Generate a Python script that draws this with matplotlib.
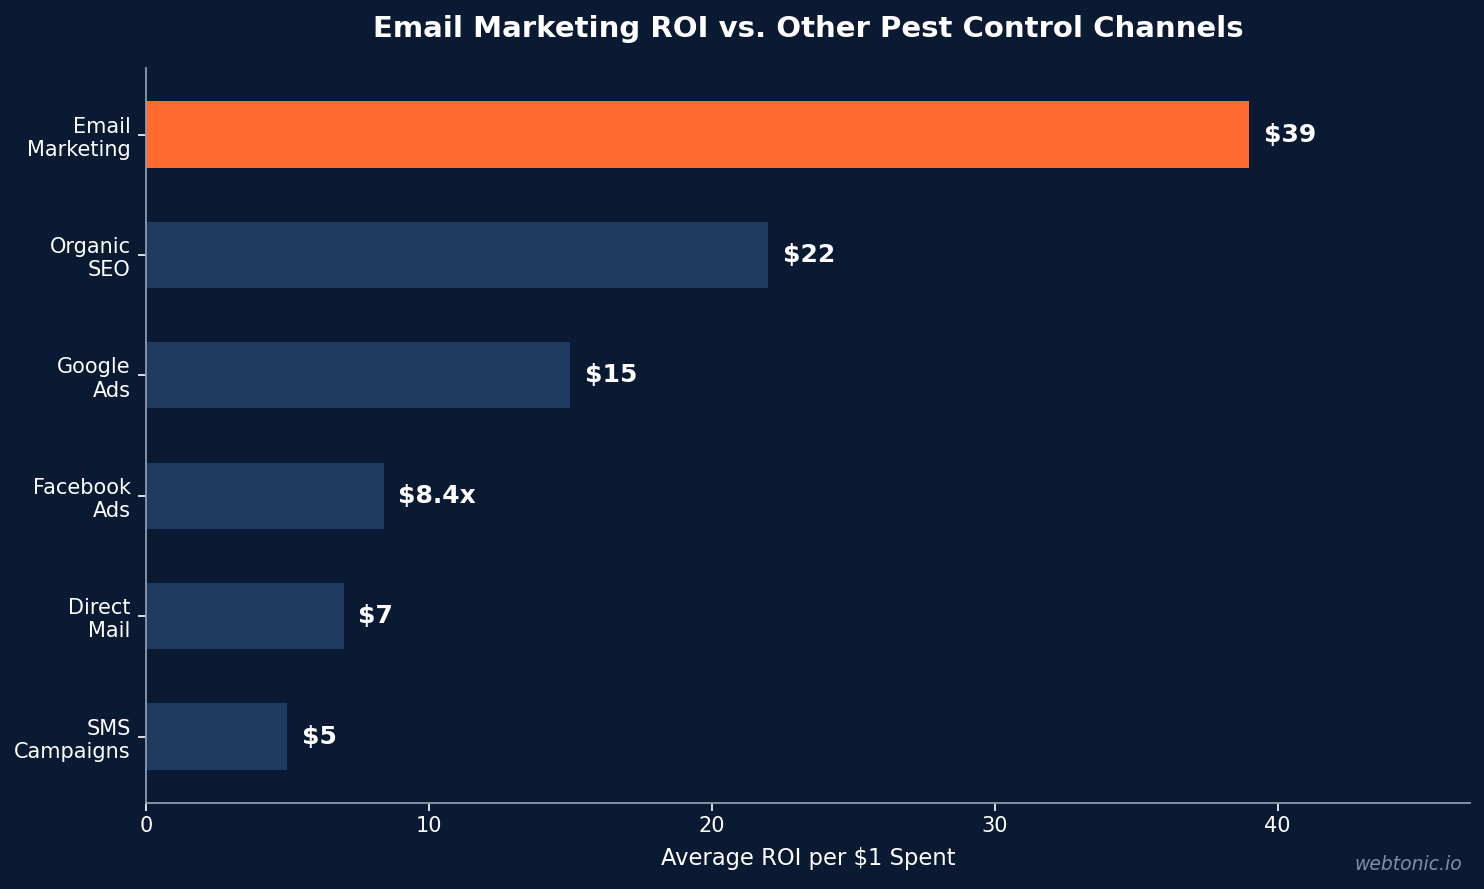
import matplotlib.pyplot as plt

channels = ['Email\nMarketing', 'Organic\nSEO', 'Google\nAds', 'Facebook\nAds', 'Direct\nMail', 'SMS\nCampaigns']
roi = [39, 22, 15, 8.4, 7, 5]
labels = ['$39', '$22', '$15', '$8.4x', '$7', '$5']

bg = '#0b1a33'
bar_col = '#1f3a5f'
hi_col = '#ff6b2f'
spine_col = '#8a9bb0'

fig = plt.figure(figsize=(14.84, 8.89), dpi=100, facecolor=bg)
ax = fig.add_axes([0.0984, 0.0967, 0.8922, 0.8268])
ax.set_facecolor(bg)

colors = [hi_col] + [bar_col] * (len(roi) - 1)
ax.barh(range(len(roi)), roi, height=0.55, color=colors)
ax.invert_yaxis()
ax.set_yticks(range(len(roi)))
ax.set_yticklabels(channels, fontsize=15, color='white')
ax.set_xlim(0, max(roi) * 1.2)

for i, (v, lab) in enumerate(zip(roi, labels)):
    ax.text(v + 0.5, i, lab, va='center', ha='left', color='white',
            fontsize=18, fontweight='bold')

ax.tick_params(axis='x', colors='white', labelsize=15, length=6, width=1.2)
ax.tick_params(axis='y', colors='white', length=6, width=1.2, pad=5)
for s in ['top', 'right']:
    ax.spines[s].set_visible(False)
for s in ['left', 'bottom']:
    ax.spines[s].set_color(spine_col)
    ax.spines[s].set_linewidth(1.3)

ax.set_xlabel('Average ROI per $1 Spent', color='white', fontsize=16.3, labelpad=8)
ax.set_title('Email Marketing ROI vs. Other Pest Control Channels', color='white',
             fontsize=21, fontweight='bold', pad=22)

fig.text(0.985, 0.017, 'webtonic.io', color='#7f8ea3', fontsize=13.5,
         style='italic', ha='right', va='bottom')

fig.savefig('out.png', dpi=100, facecolor=bg)
